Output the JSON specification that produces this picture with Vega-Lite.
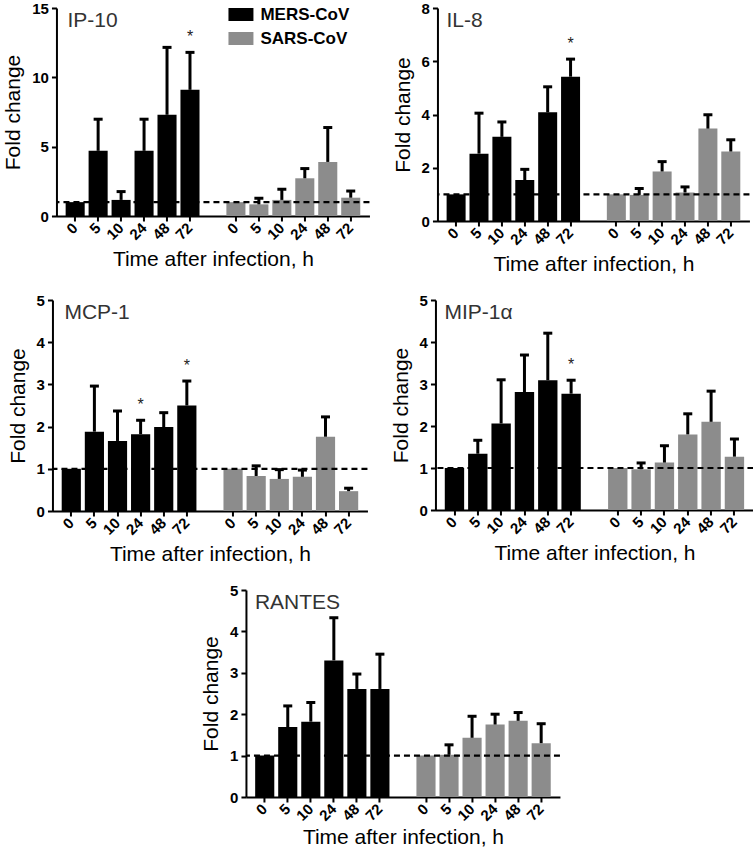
{
  "$schema": "https://vega.github.io/schema/vega-lite/v6.json",
  "padding": {"left": 2, "top": 1, "right": 0, "bottom": 0},
  "background": "white",
  "datasets": {
    "d": [
      {"p": "IP-10", "v": "MERS-CoV", "k": "M0", "m": 1.0, "u": null, "s": null},
      {"p": "IP-10", "v": "MERS-CoV", "k": "M5", "m": 4.7, "u": 6.98, "s": null},
      {"p": "IP-10", "v": "MERS-CoV", "k": "M10", "m": 1.16, "u": 1.76, "s": null},
      {"p": "IP-10", "v": "MERS-CoV", "k": "M24", "m": 4.7, "u": 6.98, "s": null},
      {"p": "IP-10", "v": "MERS-CoV", "k": "M48", "m": 7.3, "u": 12.16, "s": null},
      {"p": "IP-10", "v": "MERS-CoV", "k": "M72", "m": 9.1, "u": 11.8, "s": "*"},
      {"p": "IP-10", "v": "SARS-CoV", "k": "S0", "m": 1.0, "u": null, "s": null},
      {"p": "IP-10", "v": "SARS-CoV", "k": "S5", "m": 0.84, "u": 1.28, "s": null},
      {"p": "IP-10", "v": "SARS-CoV", "k": "S10", "m": 1.16, "u": 1.93, "s": null},
      {"p": "IP-10", "v": "SARS-CoV", "k": "S24", "m": 2.72, "u": 3.42, "s": null},
      {"p": "IP-10", "v": "SARS-CoV", "k": "S48", "m": 3.9, "u": 6.38, "s": null},
      {"p": "IP-10", "v": "SARS-CoV", "k": "S72", "m": 1.32, "u": 1.8, "s": null},

      {"p": "IL-8", "v": "MERS-CoV", "k": "M0", "m": 1.0, "u": null, "s": null},
      {"p": "IL-8", "v": "MERS-CoV", "k": "M5", "m": 2.53, "u": 4.05, "s": null},
      {"p": "IL-8", "v": "MERS-CoV", "k": "M10", "m": 3.16, "u": 3.72, "s": null},
      {"p": "IL-8", "v": "MERS-CoV", "k": "M24", "m": 1.54, "u": 1.94, "s": null},
      {"p": "IL-8", "v": "MERS-CoV", "k": "M48", "m": 4.08, "u": 5.04, "s": null},
      {"p": "IL-8", "v": "MERS-CoV", "k": "M72", "m": 5.42, "u": 6.08, "s": "*"},
      {"p": "IL-8", "v": "SARS-CoV", "k": "S0", "m": 1.0, "u": null, "s": null},
      {"p": "IL-8", "v": "SARS-CoV", "k": "S5", "m": 0.98, "u": 1.22, "s": null},
      {"p": "IL-8", "v": "SARS-CoV", "k": "S10", "m": 1.86, "u": 2.23, "s": null},
      {"p": "IL-8", "v": "SARS-CoV", "k": "S24", "m": 1.07, "u": 1.28, "s": null},
      {"p": "IL-8", "v": "SARS-CoV", "k": "S48", "m": 3.47, "u": 3.99, "s": null},
      {"p": "IL-8", "v": "SARS-CoV", "k": "S72", "m": 2.61, "u": 3.05, "s": null},

      {"p": "MCP-1", "v": "MERS-CoV", "k": "M0", "m": 1.0, "u": null, "s": null},
      {"p": "MCP-1", "v": "MERS-CoV", "k": "M5", "m": 1.88, "u": 2.96, "s": null},
      {"p": "MCP-1", "v": "MERS-CoV", "k": "M10", "m": 1.66, "u": 2.37, "s": null},
      {"p": "MCP-1", "v": "MERS-CoV", "k": "M24", "m": 1.82, "u": 2.15, "s": "*"},
      {"p": "MCP-1", "v": "MERS-CoV", "k": "M48", "m": 1.99, "u": 2.33, "s": null},
      {"p": "MCP-1", "v": "MERS-CoV", "k": "M72", "m": 2.5, "u": 3.08, "s": "*"},
      {"p": "MCP-1", "v": "SARS-CoV", "k": "S0", "m": 1.0, "u": null, "s": null},
      {"p": "MCP-1", "v": "SARS-CoV", "k": "S5", "m": 0.83, "u": 1.07, "s": null},
      {"p": "MCP-1", "v": "SARS-CoV", "k": "S10", "m": 0.76, "u": 0.98, "s": null},
      {"p": "MCP-1", "v": "SARS-CoV", "k": "S24", "m": 0.81, "u": 0.97, "s": null},
      {"p": "MCP-1", "v": "SARS-CoV", "k": "S48", "m": 1.76, "u": 2.23, "s": null},
      {"p": "MCP-1", "v": "SARS-CoV", "k": "S72", "m": 0.47, "u": 0.54, "s": null},

      {"p": "MIP-1α", "v": "MERS-CoV", "k": "M0", "m": 1.0, "u": null, "s": null},
      {"p": "MIP-1α", "v": "MERS-CoV", "k": "M5", "m": 1.34, "u": 1.66, "s": null},
      {"p": "MIP-1α", "v": "MERS-CoV", "k": "M10", "m": 2.06, "u": 3.1, "s": null},
      {"p": "MIP-1α", "v": "MERS-CoV", "k": "M24", "m": 2.81, "u": 3.69, "s": null},
      {"p": "MIP-1α", "v": "MERS-CoV", "k": "M48", "m": 3.09, "u": 4.21, "s": null},
      {"p": "MIP-1α", "v": "MERS-CoV", "k": "M72", "m": 2.77, "u": 3.09, "s": "*"},
      {"p": "MIP-1α", "v": "SARS-CoV", "k": "S0", "m": 1.0, "u": null, "s": null},
      {"p": "MIP-1α", "v": "SARS-CoV", "k": "S5", "m": 0.97, "u": 1.12, "s": null},
      {"p": "MIP-1α", "v": "SARS-CoV", "k": "S10", "m": 1.13, "u": 1.53, "s": null},
      {"p": "MIP-1α", "v": "SARS-CoV", "k": "S24", "m": 1.8, "u": 2.29, "s": null},
      {"p": "MIP-1α", "v": "SARS-CoV", "k": "S48", "m": 2.1, "u": 2.83, "s": null},
      {"p": "MIP-1α", "v": "SARS-CoV", "k": "S72", "m": 1.27, "u": 1.69, "s": null},

      {"p": "RANTES", "v": "MERS-CoV", "k": "M0", "m": 1.0, "u": null, "s": null},
      {"p": "RANTES", "v": "MERS-CoV", "k": "M5", "m": 1.69, "u": 2.2, "s": null},
      {"p": "RANTES", "v": "MERS-CoV", "k": "M10", "m": 1.82, "u": 2.28, "s": null},
      {"p": "RANTES", "v": "MERS-CoV", "k": "M24", "m": 3.3, "u": 4.33, "s": null},
      {"p": "RANTES", "v": "MERS-CoV", "k": "M48", "m": 2.61, "u": 2.97, "s": null},
      {"p": "RANTES", "v": "MERS-CoV", "k": "M72", "m": 2.61, "u": 3.45, "s": null},
      {"p": "RANTES", "v": "SARS-CoV", "k": "S0", "m": 1.0, "u": null, "s": null},
      {"p": "RANTES", "v": "SARS-CoV", "k": "S5", "m": 1.02, "u": 1.26, "s": null},
      {"p": "RANTES", "v": "SARS-CoV", "k": "S10", "m": 1.43, "u": 1.95, "s": null},
      {"p": "RANTES", "v": "SARS-CoV", "k": "S24", "m": 1.75, "u": 2.0, "s": null},
      {"p": "RANTES", "v": "SARS-CoV", "k": "S48", "m": 1.84, "u": 2.04, "s": null},
      {"p": "RANTES", "v": "SARS-CoV", "k": "S72", "m": 1.3, "u": 1.77, "s": null}
    ]
  },
  "data": {"name": "d"},
  "resolve": {"scale": {"color": "independent"}, "legend": {"color": "independent"}},
  "center": true,
  "spacing": 18,
  "vconcat": [
    {
      "hconcat": [
        {
          "width": 313, "height": 208,
          "transform": [{"filter": "datum.p == 'IP-10'"}],
          "title": {"text": "IP-10", "anchor": "start", "frame": "group", "offset": -30, "dx": 11},
          "layer": [
            {"mark": {"type": "bar"},
             "encoding": {
               "x": {"field": "k", "type": "nominal",
                     "scale": {"domain": ["M0","M5","M10","M24","M48","M72","gap","S0","S5","S10","S24","S48","S72"], "paddingInner": 0.17, "paddingOuter": 0.4},
                     "axis": {"values": ["M0","M5","M10","M24","M48","M72","S0","S5","S10","S24","S48","S72"], "labelExpr": "slice(datum.value, 1)", "title": "Time after infection, h"}},
               "y": {"field": "m", "type": "quantitative", "scale": {"domain": [0, 15], "nice": false}, "axis": {"values": [0, 5, 10, 15], "title": "Fold change"}},
               "color": {"field": "v", "type": "nominal", "scale": {"domain": ["MERS-CoV", "SARS-CoV"], "range": ["#000000", "#8c8c8c"]},
                         "legend": {"title": null, "orient": "none", "legendX": 176, "legendY": -2}}}},
            {"mark": {"type": "rule", "color": "black", "strokeWidth": 3},
             "transform": [{"filter": "datum.u != null"}],
             "encoding": {"x": {"field": "k", "type": "nominal"}, "y": {"field": "m", "type": "quantitative"}, "y2": {"field": "u"}}},
            {"mark": {"type": "tick", "color": "black", "thickness": 3, "size": 9, "opacity": 1},
             "transform": [{"filter": "datum.u != null"}],
             "encoding": {"x": {"field": "k", "type": "nominal"}, "y": {"field": "u", "type": "quantitative"}}},
            {"mark": {"type": "rule", "color": "black", "strokeWidth": 2.2, "strokeDash": [6, 4]},
             "transform": [{"filter": "datum.k == 'M0'"}],
             "encoding": {"y": {"datum": 1}}},
            {"mark": {"type": "text", "dy": -15, "fontSize": 16, "color": "#222"},
             "transform": [{"filter": "datum.s != null"}],
             "encoding": {"x": {"field": "k", "type": "nominal"}, "y": {"field": "u", "type": "quantitative"}, "text": {"field": "s"}}}
          ]
        },
        {
          "width": 312, "height": 213,
          "transform": [{"filter": "datum.p == 'IL-8'"}],
          "title": {"text": "IL-8", "anchor": "start", "frame": "group", "offset": -30, "dx": 9},
          "layer": [
            {"mark": {"type": "bar"},
             "encoding": {
               "x": {"field": "k", "type": "nominal",
                     "scale": {"domain": ["M0","M5","M10","M24","M48","M72","gap","S0","S5","S10","S24","S48","S72"], "paddingInner": 0.17, "paddingOuter": 0.4},
                     "axis": {"values": ["M0","M5","M10","M24","M48","M72","S0","S5","S10","S24","S48","S72"], "labelExpr": "slice(datum.value, 1)", "title": "Time after infection, h"}},
               "y": {"field": "m", "type": "quantitative", "scale": {"domain": [0, 8], "nice": false}, "axis": {"values": [0, 2, 4, 6, 8], "title": "Fold change"}},
               "color": {"field": "v", "type": "nominal", "scale": {"domain": ["MERS-CoV", "SARS-CoV"], "range": ["#000000", "#8c8c8c"]}, "legend": null}}},
            {"mark": {"type": "rule", "color": "black", "strokeWidth": 3},
             "transform": [{"filter": "datum.u != null"}],
             "encoding": {"x": {"field": "k", "type": "nominal"}, "y": {"field": "m", "type": "quantitative"}, "y2": {"field": "u"}}},
            {"mark": {"type": "tick", "color": "black", "thickness": 3, "size": 9, "opacity": 1},
             "transform": [{"filter": "datum.u != null"}],
             "encoding": {"x": {"field": "k", "type": "nominal"}, "y": {"field": "u", "type": "quantitative"}}},
            {"mark": {"type": "rule", "color": "black", "strokeWidth": 2.2, "strokeDash": [6, 4]},
             "transform": [{"filter": "datum.k == 'M0'"}],
             "encoding": {"y": {"datum": 1}}},
            {"mark": {"type": "text", "dy": -15, "fontSize": 16, "color": "#222"},
             "transform": [{"filter": "datum.s != null"}],
             "encoding": {"x": {"field": "k", "type": "nominal"}, "y": {"field": "u", "type": "quantitative"}, "text": {"field": "s"}}}
          ]
        }
      ],
      "spacing": 20,
      "resolve": {"scale": {"color": "independent"}, "legend": {"color": "independent"}}
    },
    {
      "hconcat": [
        {
          "width": 315, "height": 211,
          "transform": [{"filter": "datum.p == 'MCP-1'"}],
          "title": {"text": "MCP-1", "anchor": "start", "frame": "group", "offset": -30, "dx": 12},
          "layer": [
            {"mark": {"type": "bar"},
             "encoding": {
               "x": {"field": "k", "type": "nominal",
                     "scale": {"domain": ["M0","M5","M10","M24","M48","M72","gap","S0","S5","S10","S24","S48","S72"], "paddingInner": 0.17, "paddingOuter": 0.4},
                     "axis": {"values": ["M0","M5","M10","M24","M48","M72","S0","S5","S10","S24","S48","S72"], "labelExpr": "slice(datum.value, 1)", "title": "Time after infection, h"}},
               "y": {"field": "m", "type": "quantitative", "scale": {"domain": [0, 5], "nice": false}, "axis": {"values": [0, 1, 2, 3, 4, 5], "title": "Fold change"}},
               "color": {"field": "v", "type": "nominal", "scale": {"domain": ["MERS-CoV", "SARS-CoV"], "range": ["#000000", "#8c8c8c"]}, "legend": null}}},
            {"mark": {"type": "rule", "color": "black", "strokeWidth": 3},
             "transform": [{"filter": "datum.u != null"}],
             "encoding": {"x": {"field": "k", "type": "nominal"}, "y": {"field": "m", "type": "quantitative"}, "y2": {"field": "u"}}},
            {"mark": {"type": "tick", "color": "black", "thickness": 3, "size": 9, "opacity": 1},
             "transform": [{"filter": "datum.u != null"}],
             "encoding": {"x": {"field": "k", "type": "nominal"}, "y": {"field": "u", "type": "quantitative"}}},
            {"mark": {"type": "rule", "color": "black", "strokeWidth": 2.2, "strokeDash": [6, 4]},
             "transform": [{"filter": "datum.k == 'M0'"}],
             "encoding": {"y": {"datum": 1}}},
            {"mark": {"type": "text", "dy": -15, "fontSize": 16, "color": "#222"},
             "transform": [{"filter": "datum.s != null"}],
             "encoding": {"x": {"field": "k", "type": "nominal"}, "y": {"field": "u", "type": "quantitative"}, "text": {"field": "s"}}}
          ]
        },
        {
          "width": 318, "height": 210,
          "transform": [{"filter": "datum.p == 'MIP-1α'"}],
          "title": {"text": "MIP-1α", "anchor": "start", "frame": "group", "offset": -30, "dx": 9},
          "layer": [
            {"mark": {"type": "bar"},
             "encoding": {
               "x": {"field": "k", "type": "nominal",
                     "scale": {"domain": ["M0","M5","M10","M24","M48","M72","gap","S0","S5","S10","S24","S48","S72"], "paddingInner": 0.17, "paddingOuter": 0.4},
                     "axis": {"values": ["M0","M5","M10","M24","M48","M72","S0","S5","S10","S24","S48","S72"], "labelExpr": "slice(datum.value, 1)", "title": "Time after infection, h"}},
               "y": {"field": "m", "type": "quantitative", "scale": {"domain": [0, 5], "nice": false}, "axis": {"values": [0, 1, 2, 3, 4, 5], "title": "Fold change"}},
               "color": {"field": "v", "type": "nominal", "scale": {"domain": ["MERS-CoV", "SARS-CoV"], "range": ["#000000", "#8c8c8c"]}, "legend": null}}},
            {"mark": {"type": "rule", "color": "black", "strokeWidth": 3},
             "transform": [{"filter": "datum.u != null"}],
             "encoding": {"x": {"field": "k", "type": "nominal"}, "y": {"field": "m", "type": "quantitative"}, "y2": {"field": "u"}}},
            {"mark": {"type": "tick", "color": "black", "thickness": 3, "size": 9, "opacity": 1},
             "transform": [{"filter": "datum.u != null"}],
             "encoding": {"x": {"field": "k", "type": "nominal"}, "y": {"field": "u", "type": "quantitative"}}},
            {"mark": {"type": "rule", "color": "black", "strokeWidth": 2.2, "strokeDash": [6, 4]},
             "transform": [{"filter": "datum.k == 'M0'"}],
             "encoding": {"y": {"datum": 1}}},
            {"mark": {"type": "text", "dy": -15, "fontSize": 16, "color": "#222"},
             "transform": [{"filter": "datum.s != null"}],
             "encoding": {"x": {"field": "k", "type": "nominal"}, "y": {"field": "u", "type": "quantitative"}, "text": {"field": "s"}}}
          ]
        }
      ],
      "spacing": 20,
      "resolve": {"scale": {"color": "independent"}, "legend": {"color": "independent"}}
    },
    {
      "width": 314, "height": 207,
      "transform": [{"filter": "datum.p == 'RANTES'"}],
      "title": {"text": "RANTES", "anchor": "start", "frame": "group", "offset": -30, "dx": 9},
      "layer": [
        {"mark": {"type": "bar"},
         "encoding": {
           "x": {"field": "k", "type": "nominal",
                 "scale": {"domain": ["M0","M5","M10","M24","M48","M72","gap","S0","S5","S10","S24","S48","S72"], "paddingInner": 0.17, "paddingOuter": 0.4},
                 "axis": {"values": ["M0","M5","M10","M24","M48","M72","S0","S5","S10","S24","S48","S72"], "labelExpr": "slice(datum.value, 1)", "title": "Time after infection, h", "titlePadding": 3}},
           "y": {"field": "m", "type": "quantitative", "scale": {"domain": [0, 5], "nice": false}, "axis": {"values": [0, 1, 2, 3, 4, 5], "title": "Fold change"}},
           "color": {"field": "v", "type": "nominal", "scale": {"domain": ["MERS-CoV", "SARS-CoV"], "range": ["#000000", "#8c8c8c"]}, "legend": null}}},
        {"mark": {"type": "rule", "color": "black", "strokeWidth": 3},
         "transform": [{"filter": "datum.u != null"}],
         "encoding": {"x": {"field": "k", "type": "nominal"}, "y": {"field": "m", "type": "quantitative"}, "y2": {"field": "u"}}},
        {"mark": {"type": "tick", "color": "black", "thickness": 3, "size": 9, "opacity": 1},
         "transform": [{"filter": "datum.u != null"}],
         "encoding": {"x": {"field": "k", "type": "nominal"}, "y": {"field": "u", "type": "quantitative"}}},
        {"mark": {"type": "rule", "color": "black", "strokeWidth": 2.2, "strokeDash": [6, 4]},
         "transform": [{"filter": "datum.k == 'M0'"}],
         "encoding": {"y": {"datum": 1}}},
        {"mark": {"type": "text", "dy": -15, "fontSize": 16, "color": "#222"},
         "transform": [{"filter": "datum.s != null"}],
         "encoding": {"x": {"field": "k", "type": "nominal"}, "y": {"field": "u", "type": "quantitative"}, "text": {"field": "s"}}}
      ]
    }
  ],
  "config": {
    "font": "Liberation Sans",
    "view": {"stroke": null},
    "title": {"font": "Liberation Sans", "fontSize": 21, "fontWeight": "normal", "color": "#333333", "baseline": "top"},
    "axis": {
      "grid": false,
      "domainColor": "black", "domainWidth": 2,
      "tickColor": "black", "tickWidth": 2, "tickSize": 5,
      "labelFont": "Liberation Sans", "labelFontWeight": "bold", "labelFontSize": 15, "labelColor": "black",
      "titleFont": "Liberation Sans", "titleFontWeight": "normal", "titleFontSize": 21, "titleColor": "black"
    },
    "axisX": {"labelAngle": -45, "labelAlign": "right", "labelBaseline": "middle", "labelPadding": 4, "titlePadding": 6},
    "axisY": {"titlePadding": 8, "labelPadding": 3},
    "legend": {
      "symbolType": "M-2,-1.04H2V1.04H-2Z", "symbolSize": 156, "symbolStrokeWidth": 0,
      "labelFont": "Liberation Sans", "labelFontSize": 17, "labelFontWeight": "bold", "labelColor": "black",
      "labelOffset": 11, "rowPadding": 6
    }
  }
}
